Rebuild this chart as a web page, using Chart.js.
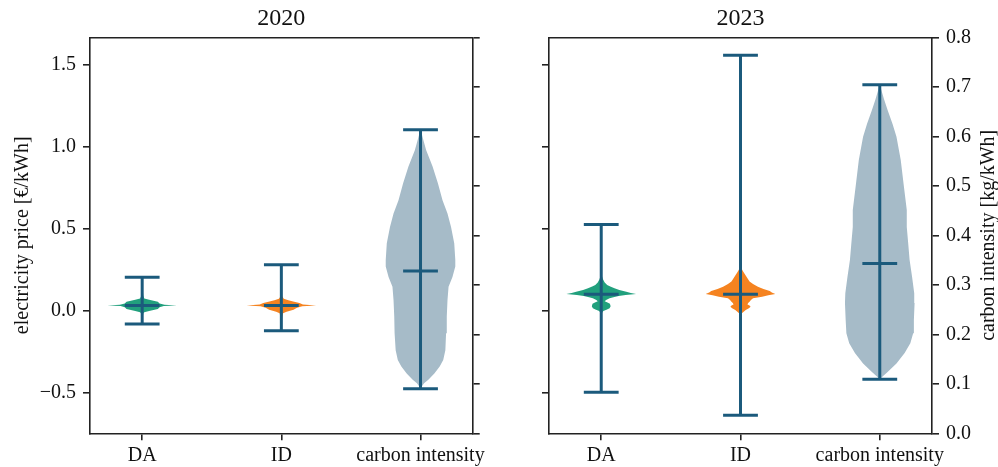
<!DOCTYPE html>
<html><head><meta charset="utf-8">
<script src="https://cdn.jsdelivr.net/npm/chart.js@4.4.1/dist/chart.umd.min.js"></script>
<style>
html,body{margin:0;padding:0;background:#fff;}
#wrap{position:relative;width:998px;height:467px;background:#fff;overflow:hidden;}
canvas{position:absolute;top:0;}
#c1{left:0;} #c2{left:500px;}
</style></head><body>
<div id="wrap"><canvas id="c1" width="500" height="467"></canvas><canvas id="c2" width="498" height="467"></canvas></div>
<script>
// ---------- data ----------
const categories = ['DA', 'ID', 'carbon intensity'];
const positions = [1, 2, 3];
const years = ['2020', '2023'];
const priceTicks = [-0.5, 0.0, 0.5, 1.0, 1.5];
const carbonTicks = [0.0, 0.1, 0.2, 0.3, 0.4, 0.5, 0.6, 0.7, 0.8];
const priceLabel = 'electricity price [€/kWh]';
const carbonLabel = 'carbon intensity [kg/kWh]';

// whisker extremes and centre line (DA, ID on price axis; carbon on carbon axis)
const min2020 = [-0.084, -0.124, 0.090];
const max2020 = [0.201, 0.278, 0.613];
const mid2020 = [0.030, 0.030, 0.328];
const min2023 = [-0.50, -0.64, 0.109];
const max2023 = [0.524, 1.556, 0.704];
const mid2023 = [0.098, 0.098, 0.343];

// violin density profiles (value, relative density)
const daY2020 = [-0.084, -0.05, -0.02, -0.012, -0.004, 0.008, 0.018, 0.026, 0.030, 0.034, 0.042, 0.052, 0.064, 0.072, 0.09, 0.12, 0.16, 0.201];
const daD2020 = [0.01, 0.015, 0.03, 0.06, 0.2, 0.45, 0.5, 0.62, 1.0, 0.64, 0.5, 0.45, 0.2, 0.06, 0.03, 0.02, 0.015, 0.01];
const idY2020 = [-0.124, -0.08, -0.04, -0.018, -0.008, 0.004, 0.016, 0.025, 0.030, 0.035, 0.044, 0.054, 0.062, 0.070, 0.085, 0.12, 0.2, 0.278];
const idD2020 = [0.01, 0.015, 0.025, 0.05, 0.15, 0.35, 0.45, 0.6, 1.0, 0.62, 0.52, 0.34, 0.2, 0.07, 0.03, 0.02, 0.015, 0.01];
const ciY2020 = [0.090, 0.094, 0.101, 0.108, 0.121, 0.135, 0.148, 0.168, 0.202, 0.215, 0.236, 0.269, 0.296, 0.316, 0.337, 0.350, 0.384, 0.417, 0.444, 0.471, 0.505, 0.539, 0.572, 0.595, 0.606, 0.613];
const ciD2020 = [0.0, 0.03, 0.1, 0.22, 0.39, 0.54, 0.64, 0.70, 0.72, 0.74, 0.74, 0.76, 0.79, 0.90, 0.98, 0.98, 0.95, 0.86, 0.76, 0.62, 0.49, 0.34, 0.16, 0.07, 0.03, 0.0];

const daY2023 = [-0.50, -0.3, -0.1, -0.03, -0.015, -0.004, 0.004, 0.012, 0.025, 0.040, 0.048, 0.056, 0.063, 0.073, 0.080, 0.087, 0.093, 0.099, 0.106, 0.113, 0.124, 0.134, 0.145, 0.154, 0.170, 0.190, 0.210, 0.30, 0.524];
const daD2023 = [0.005, 0.008, 0.012, 0.018, 0.025, 0.06, 0.15, 0.24, 0.27, 0.25, 0.18, 0.1, 0.14, 0.24, 0.35, 0.5, 0.7, 1.0, 0.85, 0.72, 0.52, 0.38, 0.26, 0.17, 0.1, 0.05, 0.02, 0.01, 0.005];
const idY2023 = [-0.64, -0.3, -0.1, -0.03, -0.018, -0.008, 0.002, 0.012, 0.022, 0.030, 0.036, 0.045, 0.053, 0.063, 0.073, 0.083, 0.092, 0.099, 0.108, 0.118, 0.130, 0.144, 0.160, 0.175, 0.195, 0.215, 0.235, 0.250, 0.35, 0.7, 1.1, 1.556];
const idD2023 = [0.005, 0.008, 0.012, 0.02, 0.04, 0.09, 0.15, 0.24, 0.29, 0.26, 0.2, 0.22, 0.26, 0.3, 0.36, 0.62, 0.8, 1.0, 0.9, 0.84, 0.66, 0.5, 0.36, 0.26, 0.2, 0.14, 0.08, 0.04, 0.012, 0.008, 0.006, 0.005];
const ciY2023 = [0.109, 0.112, 0.117, 0.124, 0.141, 0.162, 0.182, 0.202, 0.229, 0.263, 0.283, 0.316, 0.350, 0.384, 0.417, 0.451, 0.498, 0.552, 0.599, 0.625, 0.653, 0.675, 0.692, 0.704];
const ciD2023 = [0.0, 0.04, 0.11, 0.22, 0.47, 0.70, 0.86, 0.94, 0.96, 0.98, 0.97, 0.91, 0.84, 0.80, 0.76, 0.76, 0.68, 0.59, 0.47, 0.36, 0.22, 0.12, 0.05, 0.0];

// ---------- styles ----------
const FONT = 'Liberation Serif';
const TEXT = '#111';
const SPINE = '#222';
const LINE = '#1b5a7c';
const BODY = ['#21a07d', '#f58320', '#a6bbc8'];
const HALF = 0.25, CAP = 0.125;
const X_MIN = 0.625, X_MAX = 3.375;
const P_MIN = -0.75, P_MAX = 1.665;

function fmt(v) { return v.toFixed(1).replace('-', '\u2212'); }

function violin(pos, ys, ds, mn, mx, mid, color, axis) {
  const maxD = Math.max(...ds);
  const right = ys.map((y, i) => ({x: pos + HALF * ds[i] / maxD, y}));
  const left = ys.map((y, i) => ({x: pos - HALF * ds[i] / maxD, y})).reverse();
  const body = {data: right.concat(left), showLine: true, fill: 'shape', backgroundColor: color,
    borderColor: 'rgba(0,0,0,0)', borderWidth: 0, pointRadius: 0, yAxisID: axis, order: 2};
  const seg = (a, b) => ({data: [a, b], showLine: true, fill: false, borderColor: LINE, borderWidth: 3,
    pointRadius: 0, yAxisID: axis, order: 1, borderCapStyle: 'butt'});
  return [body,
    seg({x: pos, y: mn}, {x: pos, y: mx}),
    seg({x: pos - CAP, y: mx}, {x: pos + CAP, y: mx}),
    seg({x: pos - CAP, y: mn}, {x: pos + CAP, y: mn}),
    seg({x: pos - CAP, y: mid}, {x: pos + CAP, y: mid})];
}

const rightTitle = {
  id: 'rightTitle',
  afterDraw(chart, args, opts) {
    if (!opts.text) return;
    const s = chart.scales.y2, a = chart.chartArea, ctx = chart.ctx;
    ctx.save();
    ctx.translate(s.right - 9.5, (a.top + a.bottom) / 2);
    ctx.rotate(-Math.PI / 2);
    ctx.font = '20px "' + FONT + '"';
    ctx.fillStyle = TEXT;
    ctx.textAlign = 'center';
    ctx.textBaseline = 'middle';
    ctx.fillText(opts.text, 0, 0);
    ctx.restore();
  }
};

function tickGrid() {
  return {display: true, drawOnChartArea: false, drawTicks: true, tickLength: 7, color: SPINE, lineWidth: 1.6};
}
function border() { return {display: true, color: SPINE, width: 1.6}; }

function makeChart(id, year, mins, maxs, mids, profY, profD, leftW, rightW, leftLabels, rightLabels) {
  const datasets = [];
  for (let i = 0; i < 3; i++) {
    datasets.push(...violin(positions[i], profY[i], profD[i], mins[i], maxs[i], mids[i], BODY[i], i < 2 ? 'y' : 'y2'));
  }
  return new Chart(document.getElementById(id), {
    type: 'scatter',
    data: {datasets},
    plugins: [rightTitle],
    options: {
      responsive: false, animation: false, events: [], devicePixelRatio: 1,
      layout: {padding: 0},
      plugins: {legend: {display: false}, tooltip: {enabled: false}, rightTitle: {text: rightLabels ? carbonLabel : ''}},
      scales: {
        x: {
          type: 'linear', position: 'bottom', min: X_MIN, max: X_MAX,
          afterBuildTicks: s => { s.ticks = positions.map(v => ({value: v})); },
          ticks: {callback: v => categories[Math.round(v) - 1], font: {family: FONT, size: 20}, color: TEXT,
            padding: 3, maxRotation: 0, autoSkip: false},
          grid: tickGrid(), border: border(),
          afterFit: s => { s.height = 33.7; }
        },
        x2: {
          type: 'linear', position: 'top', min: X_MIN, max: X_MAX,
          ticks: {display: false}, grid: {display: false}, border: border(),
          title: {display: true, text: year, font: {family: FONT, size: 24}, color: TEXT, padding: {top: 4, bottom: 0}},
          afterFit: s => { s.height = 37.3; }
        },
        y: {
          type: 'linear', position: 'left', min: P_MIN, max: P_MAX,
          afterBuildTicks: s => { s.ticks = priceTicks.map(v => ({value: v})); },
          ticks: {display: leftLabels, callback: v => fmt(v), font: {family: FONT, size: 20}, color: TEXT, padding: 7},
          grid: tickGrid(), border: border(),
          title: {display: leftLabels, text: priceLabel, font: {family: FONT, size: 20}, color: TEXT, padding: {top: 10.5, bottom: 0}},
          afterFit: s => { s.width = leftW; }
        },
        y2: {
          type: 'linear', position: 'right', min: 0, max: 0.8,
          afterBuildTicks: s => { s.ticks = carbonTicks.map(v => ({value: v})); },
          ticks: {display: rightLabels, callback: v => fmt(v), font: {family: FONT, size: 20}, color: TEXT, padding: 7},
          grid: tickGrid(), border: border(),
          afterFit: s => { s.width = rightW; }
        }
      }
    }
  });
}

makeChart('c1', years[0], min2020, max2020, mid2020,
  [daY2020, idY2020, ciY2020], [daD2020, idD2020, ciD2020], 90, 27.3, true, false);
makeChart('c2', years[1], min2023, max2023, mid2023,
  [daY2023, idY2023, ciY2023], [daD2023, idD2023, ciD2023], 49, 66, false, true);
</script>
</body></html>
